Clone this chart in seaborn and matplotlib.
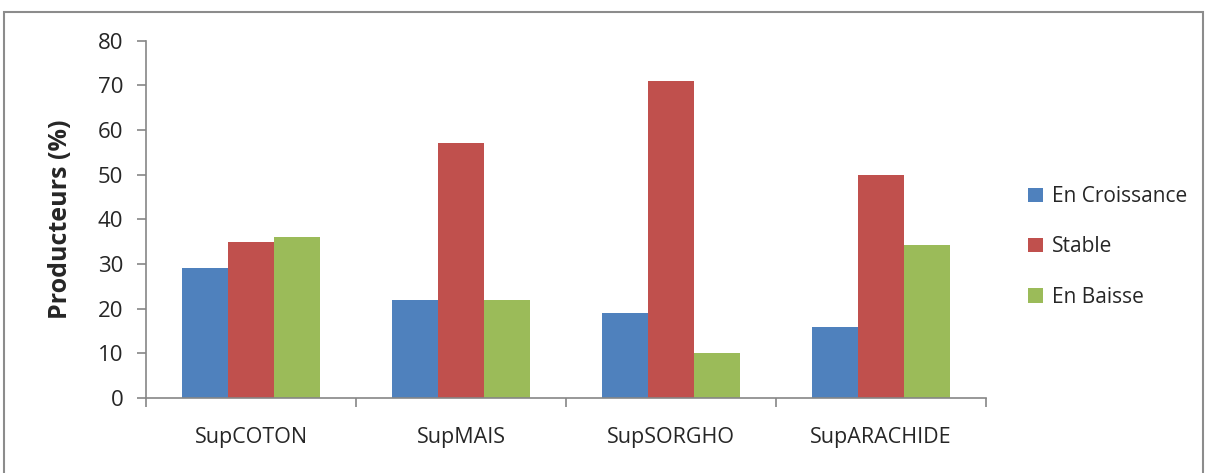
import numpy as np
import pandas as pd
import matplotlib.pyplot as plt
import seaborn as sns
from matplotlib.patches import Rectangle

# data
categories = ['SupCOTON', 'SupMAIS', 'SupSORGHO', 'SupARACHIDE']
croissance = [29, 22, 19, 16]
stable = [35, 57, 71, 50]
baisse = [36, 22, 10, 34.2]
series = ['En Croissance', 'Stable', 'En Baisse']
colors = ['#4F81BD', '#C0504D', '#9BBB59']


def buildFrame():
  rows = []
  for name, vals in zip(series, [croissance, stable, baisse]):
    for cat, v in zip(categories, vals):
      rows.append({'cat': cat, 'serie': name, 'val': v})
  return pd.DataFrame(rows)


def main():
  sns.set_style('white')
  plt.rcParams['font.family'] = ['Open Sans', 'DejaVu Sans']
  df = buildFrame()

  fig = plt.figure(figsize=(12.06, 4.73), dpi=100)
  ax = fig.add_axes([0.1211, 0.1586, 0.8176 - 0.1211, 0.914 - 0.1586])

  sns.barplot(data=df, x='cat', y='val', hue='serie', palette=colors,
              width=0.66, saturation=1, linewidth=0, ax=ax, legend=True)

  # outer chart border
  fig.patches.append(Rectangle((4 / 1206, -0.01), 1199 / 1206, 1 - 12 / 473 + 0.01,
                               transform=fig.transFigure, fill=False,
                               edgecolor='#8c8c8c', linewidth=1.5))

  ax.set_xlim(-0.5, len(categories) - 0.5)
  ax.set_ylim(0, 80)
  ax.set_yticks(np.arange(0, 81, 10))
  ax.set_xlabel('')
  ax.set_ylabel('Producteurs (%)', fontsize=18, fontweight='bold')
  ax.yaxis.set_label_coords(-0.087, 0.5)

  for s in ['top', 'right']:
    ax.spines[s].set_visible(False)
  for s in ['left', 'bottom']:
    ax.spines[s].set_color('#868686')
    ax.spines[s].set_linewidth(1.2)

  ax.tick_params(axis='y', which='major', direction='out', length=6.5, width=1.2,
                 color='#868686', labelsize=16, pad=10, left=True)
  ax.tick_params(axis='x', which='major', length=0, labelsize=15.5, pad=21)
  ax.set_xticks(np.arange(-0.5, len(categories), 1.0), minor=True)
  ax.tick_params(axis='x', which='minor', direction='out', length=6.5, width=1.2,
                 color='#868686', bottom=True)

  ax.legend(loc='center left', bbox_to_anchor=(1.028, 0.423), frameon=False,
            fontsize=15, handlelength=0.7, handleheight=0.7, handletextpad=0.45,
            labelspacing=1.4)

  plt.savefig('out.png', dpi=100)


if __name__ == '__main__':
  main()
